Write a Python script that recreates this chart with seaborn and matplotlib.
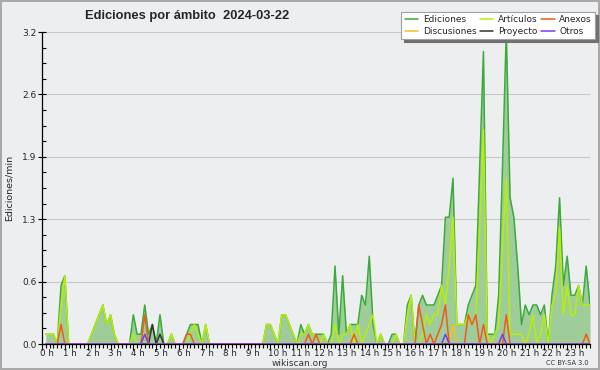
import numpy as np
import pandas as pd
import seaborn as sns
import matplotlib.pyplot as plt
import matplotlib.transforms as mtransforms
from matplotlib.ticker import FixedLocator, MultipleLocator

# one value per 10-minute bin, drawn at the end of the bin (00:10 ... 24:00)
MINUTES = list(range(10, 1441, 10))

# edits per minute, one row = two hours
EDICIONES = [
    0.1, 0.1, 0.1, 0.0, 0.6, 0.7,   0.0, 0.0, 0.0, 0.0, 0.0, 0.0,
    0.1, 0.2, 0.3, 0.4, 0.2, 0.3,   0.1, 0.0, 0.0, 0.0, 0.0, 0.3,
    0.1, 0.1, 0.4, 0.1, 0.2, 0.0,   0.3, 0.0, 0.0, 0.1, 0.0, 0.0,
    0.0, 0.1, 0.2, 0.2, 0.2, 0.0,   0.2, 0.0, 0.0, 0.0, 0.0, 0.0,
    0.0, 0.0, 0.0, 0.0, 0.0, 0.0,   0.0, 0.0, 0.0, 0.0, 0.2, 0.2,
    0.1, 0.0, 0.3, 0.3, 0.2, 0.1,   0.0, 0.2, 0.1, 0.2, 0.1, 0.1,
    0.1, 0.1, 0.0, 0.1, 0.8, 0.1,   0.7, 0.1, 0.2, 0.2, 0.2, 0.5,
    0.4, 0.9, 0.2, 0.0, 0.1, 0.0,   0.0, 0.1, 0.1, 0.0, 0.0, 0.4,
    0.5, 0.0, 0.4, 0.5, 0.4, 0.4,   0.4, 0.5, 0.6, 1.3, 1.3, 1.7,
    0.2, 0.2, 0.2, 0.4, 0.5, 0.6,   1.8, 3.0, 0.1, 0.1, 0.1, 0.5,
    1.8, 3.2, 1.5, 1.3, 0.8, 0.2,   0.4, 0.3, 0.4, 0.4, 0.3, 0.4,
    0.0, 0.5, 0.8, 1.5, 0.6, 0.9,   0.5, 0.5, 0.6, 0.4, 0.8, 0.4,
]
ARTICULOS = [
    0.1, 0.1, 0.1, 0.0, 0.4, 0.7,   0.0, 0.0, 0.0, 0.0, 0.0, 0.0,
    0.1, 0.2, 0.3, 0.4, 0.2, 0.3,   0.1, 0.0, 0.0, 0.0, 0.0, 0.1,
    0.0, 0.0, 0.1, 0.0, 0.0, 0.0,   0.0, 0.0, 0.0, 0.1, 0.0, 0.0,
    0.0, 0.0, 0.1, 0.2, 0.1, 0.0,   0.2, 0.0, 0.0, 0.0, 0.0, 0.0,
    0.0, 0.0, 0.0, 0.0, 0.0, 0.0,   0.0, 0.0, 0.0, 0.0, 0.2, 0.2,
    0.1, 0.0, 0.3, 0.3, 0.2, 0.1,   0.0, 0.1, 0.1, 0.2, 0.1, 0.1,
    0.0, 0.1, 0.0, 0.0, 0.2, 0.0,   0.1, 0.1, 0.2, 0.0, 0.2, 0.0,
    0.1, 0.2, 0.3, 0.0, 0.1, 0.0,   0.0, 0.0, 0.1, 0.0, 0.0, 0.3,
    0.5, 0.0, 0.0, 0.1, 0.3, 0.2,   0.3, 0.3, 0.6, 0.4, 0.8, 1.3,
    0.2, 0.2, 0.2, 0.3, 0.2, 0.3,   1.2, 2.2, 0.1, 0.0, 0.1, 0.2,
    1.0, 1.7, 0.1, 0.1, 0.1, 0.1,   0.0, 0.1, 0.3, 0.0, 0.1, 0.3,
    0.0, 0.4, 0.5, 1.2, 0.3, 0.6,   0.3, 0.3, 0.6, 0.4, 0.4, 0.4,
]
ANEXOS = [
    0.0, 0.0, 0.0, 0.0, 0.2, 0.0,   0.0, 0.0, 0.0, 0.0, 0.0, 0.0,
    0.0, 0.0, 0.0, 0.0, 0.0, 0.0,   0.0, 0.0, 0.0, 0.0, 0.0, 0.0,
    0.0, 0.0, 0.3, 0.0, 0.0, 0.0,   0.0, 0.0, 0.0, 0.0, 0.0, 0.0,
    0.0, 0.1, 0.1, 0.0, 0.0, 0.0,   0.0, 0.0, 0.0, 0.0, 0.0, 0.0,
    0.0, 0.0, 0.0, 0.0, 0.0, 0.0,   0.0, 0.0, 0.0, 0.0, 0.0, 0.0,
    0.0, 0.0, 0.0, 0.0, 0.0, 0.0,   0.0, 0.0, 0.0, 0.1, 0.0, 0.1,
    0.0, 0.0, 0.0, 0.0, 0.0, 0.0,   0.0, 0.0, 0.0, 0.1, 0.0, 0.0,
    0.0, 0.0, 0.0, 0.0, 0.0, 0.0,   0.0, 0.0, 0.0, 0.0, 0.0, 0.0,
    0.0, 0.0, 0.4, 0.2, 0.0, 0.1,   0.0, 0.1, 0.2, 0.4, 0.0, 0.0,
    0.0, 0.0, 0.0, 0.3, 0.2, 0.3,   0.0, 0.2, 0.0, 0.0, 0.0, 0.0,
    0.0, 0.3, 0.0, 0.0, 0.0, 0.0,   0.0, 0.0, 0.0, 0.0, 0.0, 0.0,
    0.0, 0.0, 0.0, 0.0, 0.0, 0.0,   0.0, 0.0, 0.0, 0.0, 0.1, 0.0,
]
OTROS = [0.0] * 26 + [0.1] + [0.0] * 78 + [0.1] + [0.0] * 14 + [0.1] + [0.0] * 23
PROYECTO = [0.0] * 28 + [0.2, 0.0, 0.1] + [0.0] * 113
DISCUSIONES = [0.0] * 107 + [0.2] + [0.0] * 36

HOUR_LABELS = [f"{h} h" for h in range(24)]
Y_TICKS = [0, 0.64, 1.28, 1.92, 2.56, 3.2]
Y_LABELS = ["0.0", "0.6", "1.3", "1.9", "2.6", "3.2"]

BG = "#edeef0"
COLORS = {
    "Ediciones": "#3aaa3a",
    "Discusiones": "#f0c020",
    "Artículos": "#b8ee08",
    "Proyecto": "#333333",
    "Anexos": "#f05a1a",
    "Otros": "#7a3af0",
}

df = pd.DataFrame({
    "hora": np.array(MINUTES) / 60,
    "Ediciones": EDICIONES,
    "Artículos": ARTICULOS,
    "Anexos": ANEXOS,
    "Otros": OTROS,
    "Proyecto": PROYECTO,
    "Discusiones": DISCUSIONES,
})

sns.set_theme(style="white")
plt.rcParams["font.family"] = ["DejaVu Sans"]

fig = plt.figure(figsize=(6, 3.7), dpi=100, facecolor=BG,
                 edgecolor="#a8a8a8", linewidth=1.5)
ax = fig.add_axes([42 / 600, 26 / 370, 548 / 600, 312 / 370])
ax.set_facecolor(BG)

ax.fill_between(df["hora"], df["Ediciones"], color="#9fcd9a", lw=0, zorder=1)
handles = {}
for name in ["Ediciones", "Artículos", "Discusiones", "Proyecto", "Anexos", "Otros"]:
    sns.lineplot(data=df, x="hora", y=name, color=COLORS[name], lw=1.1,
                 ax=ax, label=name, zorder=3)
    handles[name] = ax.get_lines()[-1]

ax.set_xlim(0, 24)
ax.set_ylim(0, 3.2)
ax.set_xlabel("")
ax.set_ylabel("Ediciones/min", fontsize=6.8, labelpad=6)

ax.xaxis.set_major_locator(FixedLocator(range(24)))
ax.xaxis.set_minor_locator(MultipleLocator(1 / 6))
ax.set_xticklabels(HOUR_LABELS, fontsize=6.3)
ax.yaxis.set_major_locator(FixedLocator(Y_TICKS))
ax.yaxis.set_minor_locator(MultipleLocator(0.16))
ax.set_yticklabels(Y_LABELS, fontsize=6.5)

ax.tick_params(axis="x", which="major", direction="out", length=4, width=0.8,
               color="black", pad=-0.5, bottom=True)
ax.tick_params(axis="x", which="minor", direction="out", length=3, width=0.8,
               color="black", bottom=True)
ax.tick_params(axis="y", which="major", direction="inout", length=6, width=0.8,
               color="black", pad=1, left=True)
ax.tick_params(axis="y", which="minor", direction="in", length=3, width=0.8,
               color="black", left=True)

# hour labels start at their tick
shift = mtransforms.ScaledTranslation(-2 / 100, 0, fig.dpi_scale_trans)
for lab in ax.get_xticklabels():
    lab.set_horizontalalignment("left")
    lab.set_transform(lab.get_transform() + shift)

ax.grid(axis="y", which="major", color="#c8c8c8", lw=0.8)
ax.set_axisbelow(True)
for side in ["top", "right"]:
    ax.spines[side].set_visible(False)
for side in ["left", "bottom"]:
    ax.spines[side].set_color("black")
    ax.spines[side].set_linewidth(0.9)

order = ["Ediciones", "Discusiones", "Artículos", "Proyecto", "Anexos", "Otros"]
leg = ax.legend([handles[n] for n in order], order, ncol=3, fontsize=6.5,
                loc="upper right", bbox_to_anchor=(595 / 600, 1 - 12 / 370),
                bbox_transform=fig.transFigure, frameon=True, fancybox=False,
                shadow={"color": "#707070", "alpha": 1}, handlelength=1.5,
                handletextpad=0.5, columnspacing=0.4, labelspacing=0.3,
                borderpad=0.35, borderaxespad=0)
leg.get_frame().set_facecolor("white")
leg.get_frame().set_edgecolor("#a0a0a0")
leg.get_frame().set_linewidth(0.8)

fig.text(85 / 600, 1 - 16 / 370, "Ediciones por ámbito  2024-03-22",
         fontsize=9.3, fontweight="bold", va="center", ha="left",
         family=["Liberation Sans", "DejaVu Sans"])
fig.text(300 / 600, 1 - 363 / 370, "wikiscan.org", fontsize=6.5,
         color="#333333", va="center", ha="center")
fig.text(589 / 600, 1 - 363 / 370, "CC BY-SA 3.0", fontsize=4.8,
         color="#333333", va="center", ha="right")

fig.savefig("out.png", dpi=100, facecolor=fig.get_facecolor(),
            edgecolor=fig.get_edgecolor())
